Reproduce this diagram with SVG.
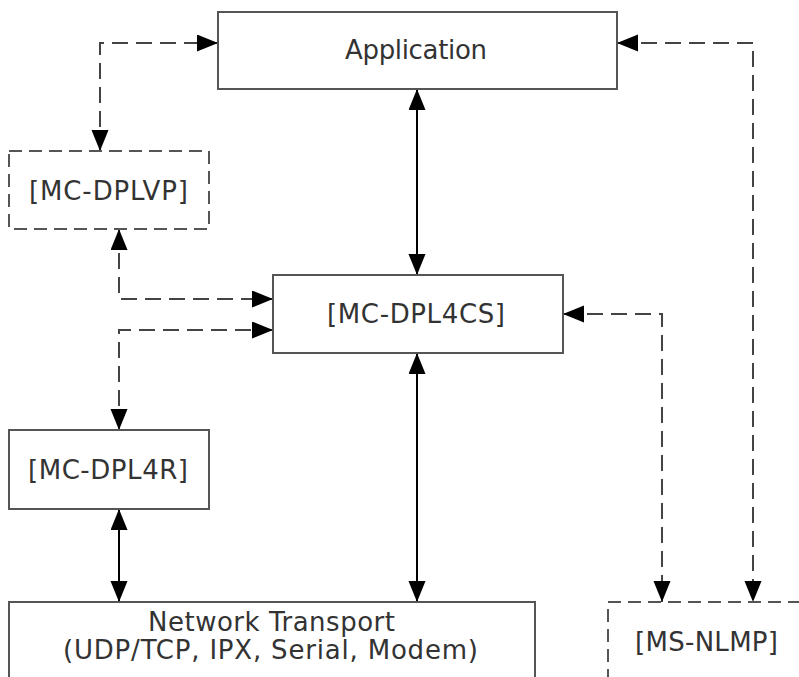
<svg xmlns="http://www.w3.org/2000/svg" width="799" height="677" viewBox="0 0 799 677">
<style>
.box{fill:#fff;stroke:#555;stroke-width:2}
.dbox{fill:#fff;stroke:#555;stroke-width:2;stroke-dasharray:13 7}
.lbl{font-family:"DejaVu Sans","Verdana",sans-serif;font-size:26px;fill:#333;text-anchor:middle}
.solid{fill:none;stroke:#000;stroke-width:2;marker-start:url(#ah);marker-end:url(#ah)}
.dash{fill:none;stroke:#444;stroke-width:2;stroke-dasharray:16 8;marker-start:url(#ah);marker-end:url(#ah)}
</style>
<defs>
<marker id="ah" markerUnits="userSpaceOnUse" markerWidth="22" markerHeight="18" refX="21" refY="8.5" orient="auto-start-reverse">
<path d="M0,0 L21,8.5 L0,17 z" fill="#000"/>
</marker>
</defs>
<rect width="799" height="677" fill="#fff"/>
<g id="connectors">
<path class="dash" d="M100,151 V43 H218"/>
<path class="dash" d="M119,229 V299 H273"/>
<path class="dash" d="M119,430 V330 H273"/>
<path class="solid" d="M417,89 V275"/>
<path class="solid" d="M417,353 V602"/>
<path class="solid" d="M119,509 V602"/>
<path class="dash" d="M617,43 H753 V602"/>
<path class="dash" d="M563,314 H662 V602"/>
</g>
<g id="application">
<rect class="box" x="218" y="12" width="399" height="77"/>
<text class="lbl" x="416" y="59" textLength="142" lengthAdjust="spacing">Application</text>
</g>
<g id="mc-dplvp">
<rect class="dbox" x="9" y="151" width="200" height="78"/>
<text class="lbl" x="108.5" y="200" textLength="159" lengthAdjust="spacing">[MC-DPLVP]</text>
</g>
<g id="mc-dpl4cs">
<rect class="box" x="273" y="275" width="290" height="78"/>
<text class="lbl" x="416" y="323" textLength="178" lengthAdjust="spacing">[MC-DPL4CS]</text>
</g>
<g id="mc-dpl4r">
<rect class="box" x="9" y="430" width="200" height="79"/>
<text class="lbl" x="108" y="479" textLength="160" lengthAdjust="spacing">[MC-DPL4R]</text>
</g>
<g id="network-transport">
<rect class="box" x="9" y="602" width="526" height="100"/>
<text class="lbl" x="271.5" y="631" textLength="247" lengthAdjust="spacing">Network Transport</text>
<text class="lbl" x="270.5" y="659" textLength="415" lengthAdjust="spacing">(UDP/TCP, IPX, Serial, Modem)</text>
</g>
<g id="ms-nlmp">
<rect class="dbox" x="608" y="602" width="200" height="100"/>
<text class="lbl" x="706.5" y="651" textLength="143" lengthAdjust="spacing">[MS-NLMP]</text>
</g>
</svg>
